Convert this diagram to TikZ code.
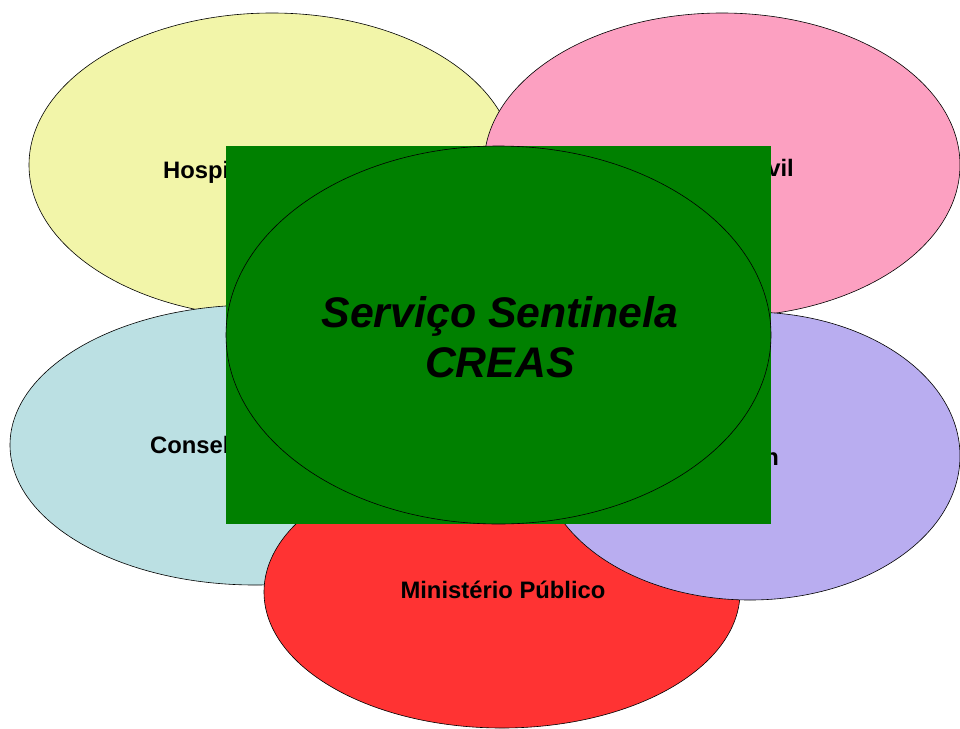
\documentclass[tikz,border=0pt]{standalone}
\usepackage{fontspec}
\setmainfont{Liberation Sans}
\usepackage{tikz}
\usetikzlibrary{positioning}

\definecolor{hospYellow}{RGB}{242,245,169}
\definecolor{civilPink}{RGB}{252,160,193}
\definecolor{conselCyan}{RGB}{187,224,227}
\definecolor{lilac}{RGB}{185,173,240}
\definecolor{mpRed}{RGB}{255,51,51}
\definecolor{creasGreen}{RGB}{0,128,0}

\begin{document}
\begin{tikzpicture}[x=1pt, y=-1pt, blob/.style = {draw=black, line width=0.6pt}, lbl/.style = {font=\bfseries\fontsize{23.8}{28}\selectfont, inner sep=0pt}, centre/.style = {font=\bfseries\itshape\fontsize{42.8}{50}\selectfont, align=center, inner sep=0pt}]
            \useasboundingbox (0,0) rectangle (960,728);

            % Partners round the centre
            \draw [blob, fill=hospYellow] (272,165) ellipse [x radius=243, y radius=152];
            \node [lbl, anchor=base west] (hospital) at (163,178) {Hospi};

            \draw [blob, fill=civilPink] (722,165) ellipse [x radius=238, y radius=152];
            \node [lbl, anchor=base east] (civil) at (794,176) {vil};

            \draw [blob, fill=conselCyan] (255,445) ellipse [x radius=245, y radius=140];
            \node [lbl, anchor=base west] (conselho) at (150,453) {Consel};

            \draw [blob, fill=mpRed] (502,592) ellipse [x radius=238, y radius=136];
            \node [lbl, anchor=base] (ministerio) at (503,598) {Ministério Público};

            \draw [blob, fill=lilac] (750,456) ellipse [x radius=210, y radius=144];
            \node [lbl, anchor=base east] (lilacLbl) at (779,465) {n};

            % Centre
            \fill [creasGreen] (226,146) rectangle (771,524);
            \draw [blob] (498.5,335) ellipse [x radius=272.5, y radius=189];
            \node [centre] (creas) at (500,337) {Serviço Sentinela\\CREAS};
        \end{tikzpicture}
\end{document}
